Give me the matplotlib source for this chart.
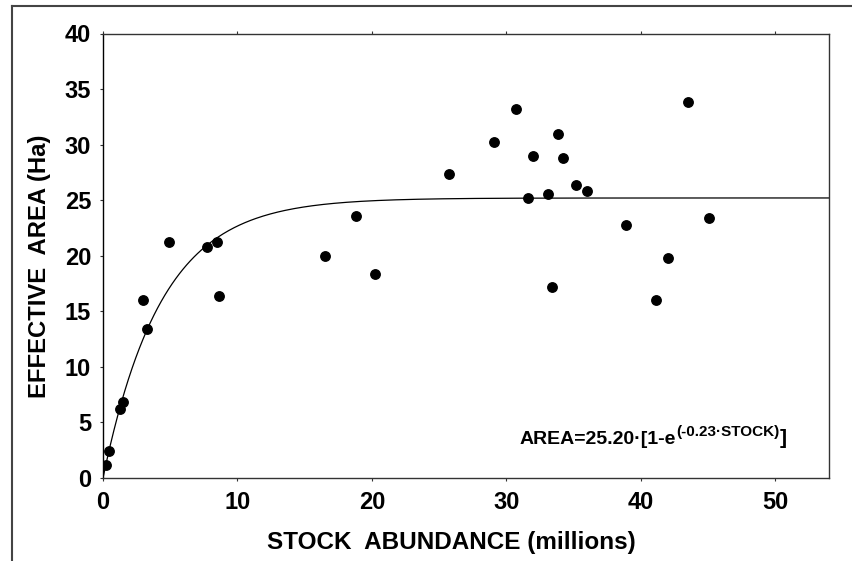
import numpy as np
import matplotlib
matplotlib.use("Agg")
import matplotlib.pyplot as plt
from matplotlib.lines import Line2D

plt.rcParams['font.family'] = ['Liberation Sans', 'DejaVu Sans']
plt.rcParams['font.weight'] = 'bold'

# stock abundance (millions) and effective area (Ha)
stock = [0.22, 0.47, 1.24, 1.49, 2.95, 3.25, 4.89, 7.76, 8.46, 8.61,
         16.5, 18.8, 20.2, 25.7, 29.1, 30.7, 31.6, 32.0, 33.1, 33.4,
         33.85, 34.2, 35.2, 36.0, 38.9, 41.1, 42.0, 43.5, 45.1]
area = [1.2, 2.4, 6.2, 6.8, 16.0, 13.4, 21.2, 20.8, 21.2, 16.4,
        20.0, 23.6, 18.4, 27.4, 30.2, 33.2, 25.2, 29.0, 25.6, 17.2,
        31.0, 28.8, 26.4, 25.8, 22.8, 16.0, 19.8, 33.8, 23.4]

# fitted model AREA = a * (1 - exp(-b * STOCK))
a_fit = 25.20
b_fit = 0.23

xticks = [0, 10, 20, 30, 40, 50]
yticks = [0, 5, 10, 15, 20, 25, 30, 35, 40]

fig = plt.figure(figsize=(8.52, 5.61), dpi=100)
ax = fig.add_axes([103 / 852, 83 / 561, 726 / 852, 444.5 / 561])

xs = np.linspace(0, 54, 400)
ax.plot(xs, a_fit * (1 - np.exp(-b_fit * xs)), color='black', lw=0.9, zorder=2)
ax.plot(stock, area, 'o', color='black', markersize=6.8, zorder=3)

ax.set_xlim(0, 54)
ax.set_ylim(0, 40)
ax.set_xticks(xticks)
ax.set_yticks(yticks)

for side in ['left', 'bottom', 'top', 'right']:
    ax.spines[side].set_color('#333333')
    ax.spines[side].set_linewidth(1.0)
ax.spines['left'].set_color('black')

ax.tick_params(axis='x', direction='out', length=2.5, width=0.8, pad=7,
               labelsize=17, top=True, colors='#333333', labelcolor='black')
ax.tick_params(axis='y', direction='out', length=2.5, width=0.8, pad=6,
               labelsize=17, right=False, colors='#333333', labelcolor='black')
for lab in ax.get_xticklabels() + ax.get_yticklabels():
    lab.set_fontweight('bold')

ax.set_xlabel('STOCK  ABUNDANCE (millions)', fontsize=17.5, fontweight='bold')
ax.set_ylabel('EFFECTIVE  AREA (Ha)', fontsize=17.2, fontweight='bold')
ax.xaxis.set_label_coords(0.48, -0.146)
ax.xaxis.label.set_va('center')
ax.yaxis.set_label_coords(-0.088, 0.476)
ax.yaxis.label.set_va('center')

# equation of the fitted curve, built from pieces so the exponent sits raised
t1 = ax.text(31.0, 2.7, 'AREA=25.20\u00b7[1-e', fontsize=14, fontweight='bold',
             ha='left', va='bottom')
t2 = ax.annotate('(-0.23\u00b7STOCK)', xy=(1, 0.55), xycoords=t1,
                 fontsize=11, fontweight='bold', ha='left', va='bottom')
t3 = ax.annotate(']', xy=(1, 0), xycoords=(t2, t1),
                 fontsize=15, fontweight='bold', ha='left', va='bottom')

# outer frame lines along the top and left of the figure
fig.add_artist(Line2D([12 / 852, 1], [1 - 6 / 561, 1 - 6 / 561],
                      transform=fig.transFigure, color='#444444', lw=1.5))
fig.add_artist(Line2D([12 / 852, 12 / 852], [0, 1 - 6 / 561],
                      transform=fig.transFigure, color='#444444', lw=1.5))

fig.savefig('out.png', dpi=100)
